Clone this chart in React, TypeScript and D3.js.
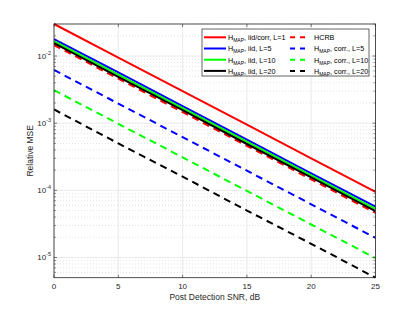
import * as d3 from 'd3'

// SNR grid (dB) and the relative MSE values
const snr = [0, 5, 10, 15, 20, 25]
const mapIidCorrL1 = [0.03, 0.0095, 0.003, 0.00095, 0.0003, 0.000095]
const hcrb = [0.0146, 0.0046, 0.00146, 0.00046, 0.000146, 0.000046]
const mapIidL5 = [0.0179, 0.0057, 0.00179, 0.00057, 0.000179, 0.000057]
const mapCorrL5 = [0.0062, 0.00196, 0.00062, 0.000196, 0.000062, 0.0000196]
const mapIidL10 = [0.0167, 0.0053, 0.00167, 0.00053, 0.000167, 0.000053]
const mapCorrL10 = [0.0031, 0.00098, 0.00031, 0.000098, 0.000031, 0.0000098]
const mapIidL20 = [0.0156, 0.0049, 0.00156, 0.00049, 0.000156, 0.000049]
const mapCorrL20 = [0.0016, 0.0005, 0.00016, 0.00005, 0.000016, 0.000005]

const xTicks = [0, 5, 10, 15, 20, 25]
const yDecades = [-5, -4, -3, -2]

const series = [
  { sub: 'MAP', rest: ', iid/corr, L=1', values: mapIidCorrL1, color: '#ff0000', dashed: false },
  { sub: '', rest: 'HCRB', values: hcrb, color: '#ff0000', dashed: true },
  { sub: 'MAP', rest: ', iid, L=5', values: mapIidL5, color: '#0000ff', dashed: false },
  { sub: 'MAP', rest: ', corr., L=5', values: mapCorrL5, color: '#0000ff', dashed: true },
  { sub: 'MAP', rest: ', iid, L=10', values: mapIidL10, color: '#00ff00', dashed: false },
  { sub: 'MAP', rest: ', corr., L=10', values: mapCorrL10, color: '#00ff00', dashed: true },
  { sub: 'MAP', rest: ', iid, L=20', values: mapIidL20, color: '#000000', dashed: false },
  { sub: 'MAP', rest: ', corr., L=20', values: mapCorrL20, color: '#000000', dashed: true },
]

const W = 415
const H = 312
const margin = { left: 54, right: 39.5, top: 24, bottom: 34.3 }

export default function App() {
  const x = d3.scaleLinear().domain([0, 25]).range([margin.left, W - margin.right])
  const y = d3.scaleLog().domain([5e-6, 3e-2]).range([H - margin.bottom, margin.top])
  const [x0, x1] = x.range()
  const [y0, y1] = y.range()

  const line = d3.line<number>()
    .x((_, i) => x(snr[i]))
    .y((d) => y(d))

  // minor ticks for the log axis (2..9 x each decade, clipped to domain)
  const minors: number[] = []
  for (let e = -6; e <= -2; e++) {
    for (let k = 2; k <= 9; k++) {
      const v = k * Math.pow(10, e)
      if (v >= 5e-6 && v <= 3e-2) minors.push(v)
    }
  }

  const font = 'Liberation Sans, Arial, sans-serif'
  const axisGray = '#262626'
  const legX = 202, legY = 29, legW = 167, legH = 47

  return (
    <svg width={W} height={H} style={{ position: 'absolute', left: 0, top: 0 }} fontFamily={font}>
      <rect x={0} y={0} width={W} height={H} fill='white' />
      <rect x={x0} y={y1} width={x1 - x0} height={y0 - y1} fill='white' />
      {/* grid */}
      {minors.map((v) => (
        <line key={'mg' + v} x1={x0} x2={x1} y1={y(v)} y2={y(v)} stroke='#d0d0d0' strokeWidth={0.6} strokeDasharray='1,2' />
      ))}
      {yDecades.map((e) => (
        <line key={'g' + e} x1={x0} x2={x1} y1={y(Math.pow(10, e))} y2={y(Math.pow(10, e))} stroke='#e3e3e3' strokeWidth={0.8} />
      ))}
      {xTicks.map((t) => (
        <line key={'gx' + t} x1={x(t)} x2={x(t)} y1={y0} y2={y1} stroke='#e3e3e3' strokeWidth={0.8} />
      ))}

      {/* data */}
      <g clipPath='url(#clip)'>
        <defs>
          <clipPath id='clip'>
            <rect x={x0} y={y1 - 1} width={x1 - x0} height={y0 - y1 + 2} />
          </clipPath>
        </defs>
        {series.map((s, i) => (
          <path key={i} d={line(s.values) || ''} fill='none' stroke={s.color} strokeWidth={2}
            strokeDasharray={s.dashed ? '7,5' : undefined} />
        ))}
      </g>

      {/* box + ticks */}
      <rect x={x0} y={y1} width={x1 - x0} height={y0 - y1} fill='none' stroke={axisGray} strokeWidth={0.8} />
      {xTicks.map((t) => (
        <g key={'tx' + t}>
          <line x1={x(t)} x2={x(t)} y1={y0} y2={y0 - 3} stroke={axisGray} strokeWidth={0.6} />
          <line x1={x(t)} x2={x(t)} y1={y1} y2={y1 + 3} stroke={axisGray} strokeWidth={0.6} />
          <text x={x(t)} y={y0 + 11.5} textAnchor='middle' fontSize={8} fill={axisGray}>{t}</text>
        </g>
      ))}
      {minors.map((v) => (
        <g key={'mt' + v}>
          <line x1={x0} x2={x0 + 2} y1={y(v)} y2={y(v)} stroke={axisGray} strokeWidth={0.5} />
          <line x1={x1} x2={x1 - 2} y1={y(v)} y2={y(v)} stroke={axisGray} strokeWidth={0.5} />
        </g>
      ))}
      {yDecades.map((e) => (
        <g key={'ty' + e}>
          <line x1={x0} x2={x0 + 3} y1={y(Math.pow(10, e))} y2={y(Math.pow(10, e))} stroke={axisGray} strokeWidth={0.6} />
          <line x1={x1} x2={x1 - 3} y1={y(Math.pow(10, e))} y2={y(Math.pow(10, e))} stroke={axisGray} strokeWidth={0.6} />
          <text x={x0 - 3} y={y(Math.pow(10, e)) + 3} textAnchor='end' fontSize={8} fill={axisGray}>
            10<tspan dy={-4} fontSize={5.5}>{e}</tspan>
          </text>
        </g>
      ))}

      <text x={(x0 + x1) / 2} y={299.5} textAnchor='middle' fontSize={8.5} fill={axisGray}>Post Detection SNR, dB</text>
      <text transform={`translate(33,${(y0 + y1) / 2}) rotate(-90)`} textAnchor='middle' fontSize={8.5} fill={axisGray}>Relative MSE</text>

      {/* legend */}
      <rect x={legX} y={legY} width={legW} height={legH} fill='white' stroke='#262626' strokeWidth={0.7} />
      {series.map((s, i) => {
        const col = i % 2
        const row = Math.floor(i / 2)
        const ly = legY + 8.3 + row * 11.2
        const lx = col === 0 ? legX + 2 : legX + 88
        const lw = col === 0 ? 22 : 16
        const tx = col === 0 ? legX + 26 : legX + 112
        return (
          <g key={'lg' + i}>
            <line x1={lx} x2={lx + lw} y1={ly} y2={ly} stroke={s.color} strokeWidth={2}
              strokeDasharray={s.dashed ? '5,5' : undefined} />
            <text x={tx} y={ly + 2.8} fontSize={7.2} fill='#000'>
              {s.sub ? (
                <>
                  H<tspan dy={2} fontSize={5}>{s.sub}</tspan><tspan dy={-2}>{s.rest}</tspan>
                </>
              ) : s.rest}
            </text>
          </g>
        )
      })}
    </svg>
  )
}
